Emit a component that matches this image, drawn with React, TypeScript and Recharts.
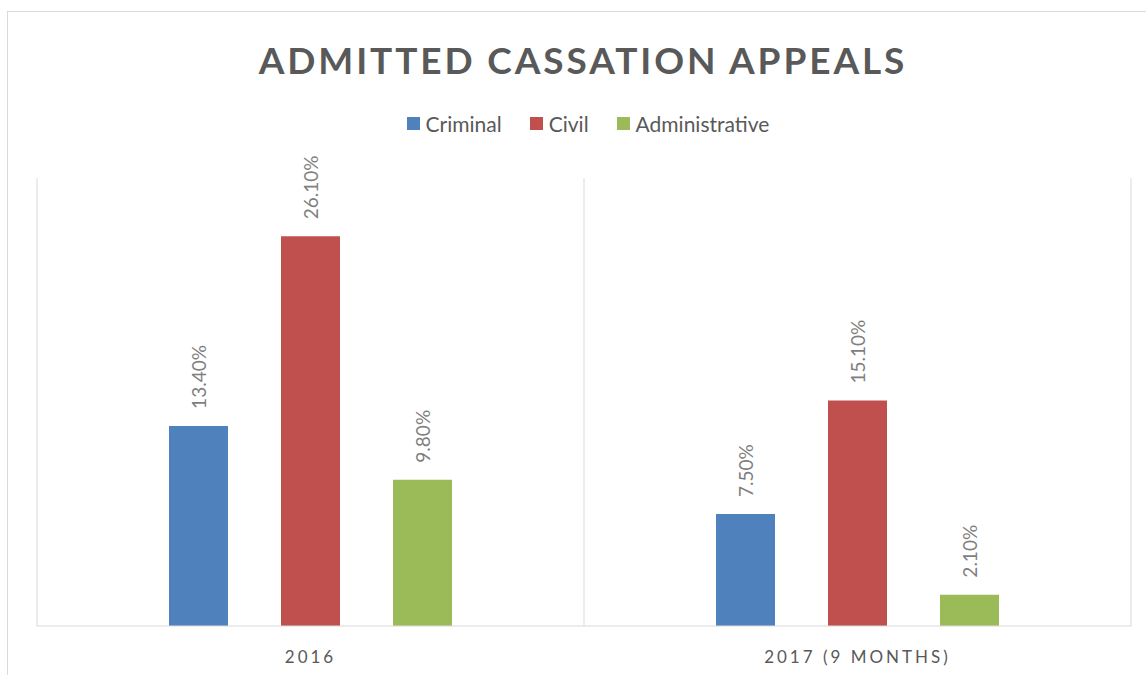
import { BarChart, Bar, XAxis, YAxis, CartesianGrid, LabelList } from "recharts";

const periods = ["2016", "2017 (9 MONTHS)"];
const criminal = [13.4, 7.5];
const civil = [26.1, 15.1];
const administrative = [9.8, 2.1];

const seriesList = [
  { key: "criminal", name: "Criminal", color: "#4f81bd" },
  { key: "civil", name: "Civil", color: "#c0504d" },
  { key: "administrative", name: "Administrative", color: "#9bbb59" },
];

const data = periods.map((period, i) => ({
  period,
  criminal: criminal[i],
  civil: civil[i],
  administrative: administrative[i],
}));

const FONT = "Lato, 'Open Sans', sans-serif";

const ValueLabel = (props: any) => {
  const { x, y, width, value } = props;
  const cx = x + width / 2;
  const ty = y - 17;
  return (
    <text
      x={cx}
      y={ty}
      transform={`rotate(-90, ${cx}, ${ty})`}
      textAnchor="start"
      dominantBaseline="central"
      fill="#7f7f7f"
      fontSize={19}
      fontFamily={FONT}
    >
      {Number(value).toFixed(2)}%
    </text>
  );
};

const PeriodTick = ({ x, y, payload }: any) => (
  <text
    x={x}
    y={y}
    dy={29}
    textAnchor="middle"
    fill="#595959"
    fontSize={17}
    fontFamily={FONT}
    style={{ letterSpacing: "3px" }}
  >
    {payload.value}
  </text>
);

export default function App() {
  return (
    <div>
      <div
        style={{
          position: "absolute",
          left: 7,
          top: 11,
          width: 1160,
          height: 700,
          border: "1px solid #d9d9d9",
          boxSizing: "border-box",
        }}
      />
      <div
        style={{
          position: "absolute",
          left: 0,
          top: 37,
          width: 1166,
          textAlign: "center",
          fontFamily: FONT,
          fontWeight: 700,
          fontSize: 37,
          letterSpacing: "2.9px",
          color: "#595959",
        }}
      >
        ADMITTED CASSATION APPEALS
      </div>
      <div
        style={{
          position: "absolute",
          left: 0,
          top: 111,
          width: 1176,
          display: "flex",
          justifyContent: "center",
          fontFamily: FONT,
          fontSize: 21,
          color: "#595959",
        }}
      >
        {seriesList.map((s) => (
          <div key={s.key} style={{ display: "flex", alignItems: "center", margin: "0 14px" }}>
            <span style={{ width: 13, height: 13, background: s.color, display: "inline-block", marginRight: 6 }} />
            <span>{s.name}</span>
          </div>
        ))}
      </div>
      <div style={{ position: "absolute", left: 0, top: 0 }}>
        <BarChart
          width={1146}
          height={675}
          data={data}
          margin={{ top: 178, right: 15, left: 37, bottom: 19 }}
          barSize={59}
          barGap={53}
        >
          <CartesianGrid
            horizontal={false}
            stroke="#d9d9d9"
            verticalCoordinatesGenerator={({ offset }: any) => [
              offset.left,
              offset.left + offset.width / 2,
              offset.left + offset.width,
            ]}
          />
          <XAxis
            dataKey="period"
            height={30}
            axisLine={{ stroke: "#d9d9d9" }}
            tickLine={false}
            tick={<PeriodTick />}
            interval={0}
          />
          <YAxis hide domain={[0, 30]} />
          {seriesList.map((s) => (
            <Bar key={s.key} dataKey={s.key} name={s.name} fill={s.color} isAnimationActive={false}>
              <LabelList dataKey={s.key} content={<ValueLabel />} />
            </Bar>
          ))}
        </BarChart>
      </div>
    </div>
  );
}
